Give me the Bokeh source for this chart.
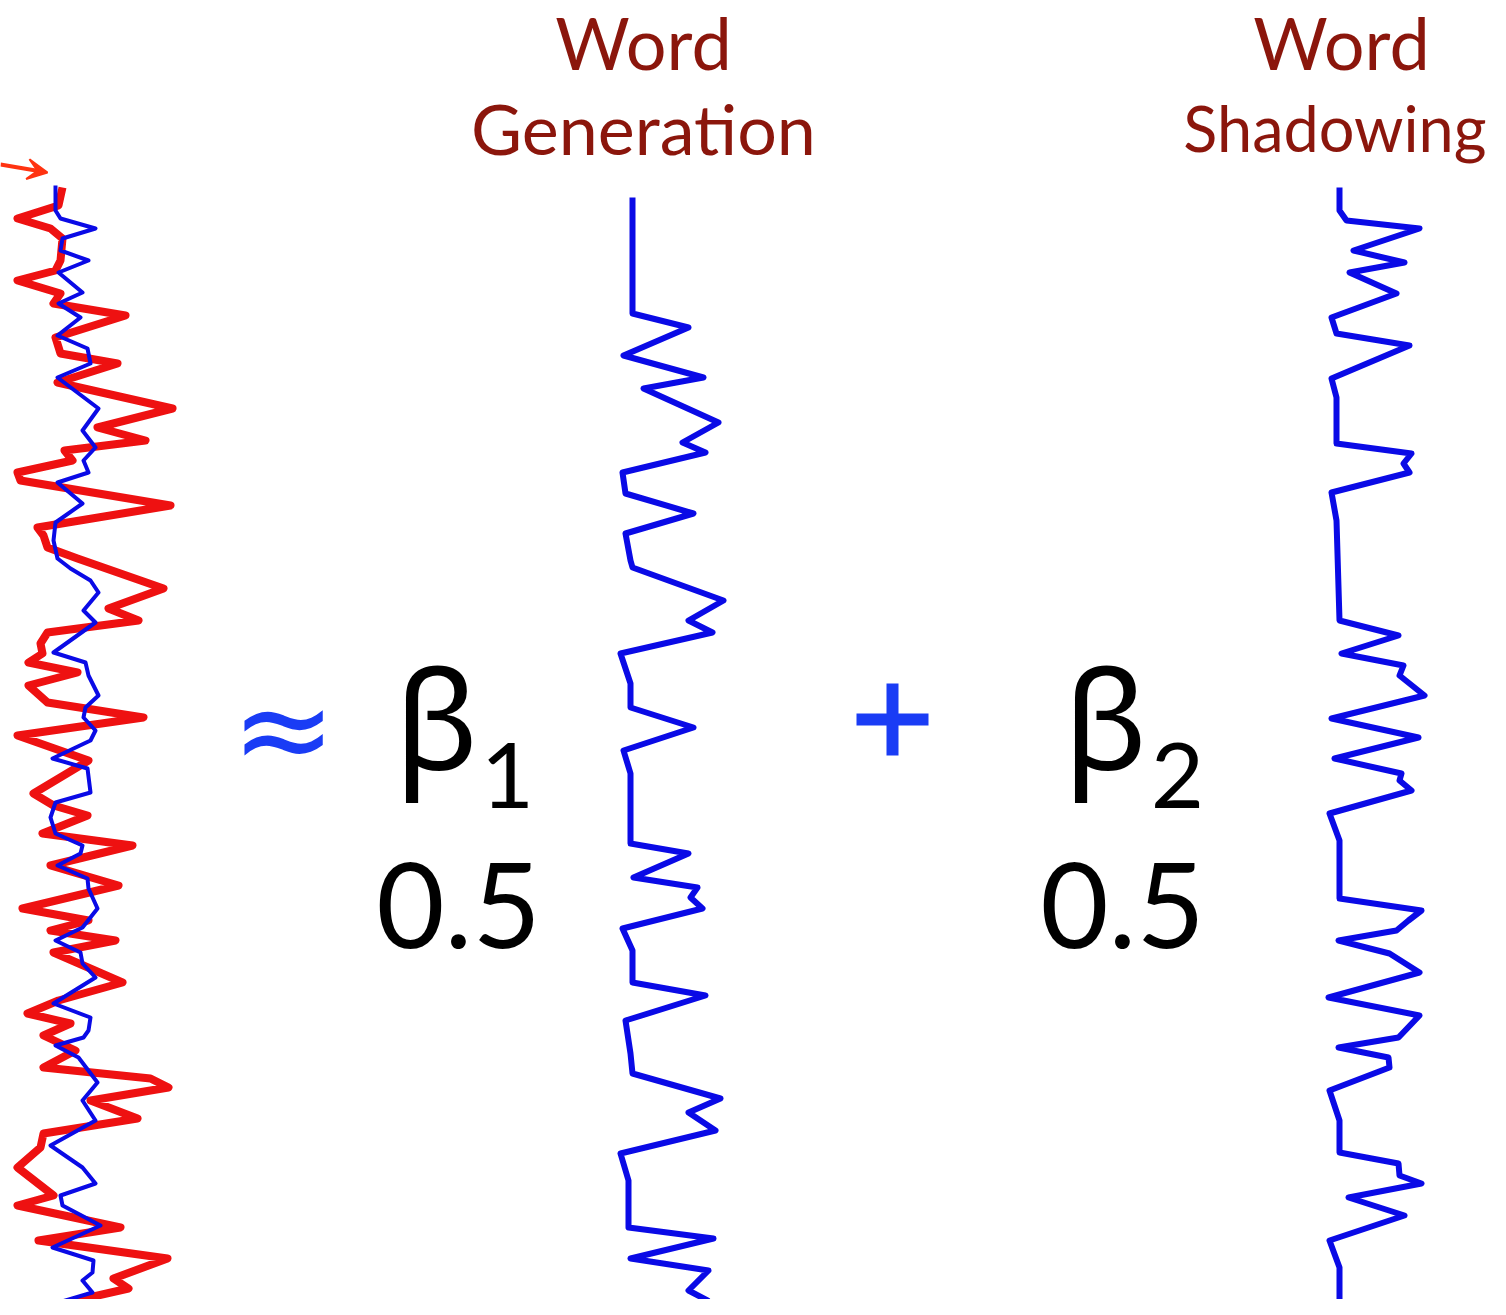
from bokeh.plotting import figure
from bokeh.models import Range1d, Arrow, VeeHead
from bokeh.core.properties import value
from bokeh.embed import file_html
from bokeh.resources import INLINE

# ---------------- data (time = scan position down the page, value = deflection) -------------
# measured BOLD signal (red) and model fit (blue) in the left panel
data_t = [187, 205, 218, 228, 238, 260, 270, 280, 293, 303, 315, 337, 353, 363, 382, 408, 427, 440, 450,
          460, 472, 480, 505, 527, 535, 547, 558, 588, 608, 620, 632, 643, 653, 662, 672, 685, 702, 717,
          735, 760, 793, 805, 815, 833, 845, 865, 885, 908, 920, 930, 940, 952, 982, 1000, 1013, 1023,
          1035, 1050, 1067, 1078, 1087, 1100, 1118, 1133, 1147, 1167, 1195, 1205, 1227, 1240, 1258,
          1278, 1288, 1302]
data_v = [7, 3, -38, -5, 7, 5, 0, -38, 5, -2, 70, 0, 5, 62, 2, 117, 42, 90, 9,
          17, -38, -35, 115, -18, -12, -8, 22, 108, 53, 83, -8, -15, -13, -27, 22, -27, -8, 88,
          -38, 33, -22, -2, 32, -13, 77, -5, 63, -33, 33, -5, 60, -2, 67, 3, -28, 15,
          -12, 20, -12, 95, 113, 35, 82, -12, -15, -38, -2, -38, 65, -17, 112,
          58, 73, 12]

fit_t = [185, 210, 218, 228, 238, 250, 260, 272, 292, 303, 317, 335, 348, 363, 377, 408, 430, 447, 460,
         472, 482, 503, 522, 540, 558, 568, 580, 592, 610, 622, 652, 662, 675, 695, 707, 717, 730, 740,
         758, 768, 792, 802, 817, 833, 845, 853, 865, 878, 888, 908, 927, 940, 952, 963, 977, 1003, 1017,
         1030, 1037, 1045, 1057, 1082, 1100, 1120, 1145, 1167, 1183, 1195, 1205, 1225, 1247, 1260, 1272,
         1280, 1292, 1302]
fit_v = [0, 0, 5, 40, 7, 5, 33, 3, 27, 3, 25, 2, 32, 35, 2, 43, 27, 40, 28,
         33, 2, 27, 0, -2, 2, 15, 35, 43, 28, 40, -2, 30, 33, 43, 30, 28, 40, 35,
         -3, 32, 35, 0, -5, 0, 27, 25, 2, 32, 33, 42, 27, 0, 25, 27, 40, -2, 35,
         33, 28, 0, 23, 42, 27, 40, -5, 27, 40, 5, 7, 45, -3, 38, 37,
         27, 37, 3]

# regressor 1: Word Generation
gen_t = [197, 313, 327, 355, 377, 388, 422, 442, 452, 472, 493, 513, 533, 560, 567, 600, 620, 632, 653,
         683, 707, 727, 750, 773, 843, 853, 877, 887, 897, 908, 928, 950, 982, 995, 1020, 1053, 1073,
         1098, 1112, 1130, 1153, 1180, 1227, 1238, 1258, 1270, 1290, 1300, 1312]
gen_v = [2, 2, 58, -7, 73, 13, 88, 52, 75, -8, -5, 63, -5, 0, 2, 93, 58, 82, -10,
         0, 0, 63, -7, 0, 0, 58, 3, 67, 60, 72, -8, 2, 2, 75, -5, 0, 2,
         90, 58, 85, -10, -2, -2, 83, 0, 78, 58, 77, 8]

# regressor 2: Word Shadowing
sha_t = [187, 210, 220, 228, 250, 262, 272, 293, 317, 333, 345, 378, 397, 443, 453, 463, 472, 492, 520,
         620, 635, 653, 665, 675, 695, 718, 737, 758, 773, 780, 790, 813, 840, 898, 910, 920, 930, 940,
         953, 972, 997, 1015, 1037, 1047, 1057, 1067, 1090, 1120, 1152, 1163, 1175, 1183, 1197, 1215,
         1240, 1267, 1300]
sha_v = [2, 2, 9, 82, 16, 67, 12, 59, -6, -1, 72, -6, -1, -1, 74, 66, 72, -6, -1,
         2, 61, 4, 66, 62, 87, -6, 81, -3, 64, 62, 74, -8, 2, 2, 84, 71, 59, 1,
         52, 82, -9, 82, 61, 1, 51, 52, -8, 2, 2, 61, 62, 84, 11, 67,
         -8, 2, 2]

weights = ["0.5", "0.5"]
regressor_names = [["Word", "Generation"], ["Word", "Shadowing"]]

# ---------------- figure ----------------
W, H = 1490, 1299
p = figure(width=W, height=H, output_backend="svg", toolbar_location=None,
           x_range=Range1d(0, W), y_range=Range1d(H, 0),
           x_axis_location=None, y_axis_location=None, min_border=0)
p.grid.visible = False
p.outline_line_color = None
p.background_fill_color = "white"
p.border_fill_color = "white"

RED = "#ee1111"
BLUE = "#0a0ae6"
TITLE = "#8b160c"
SIGN = "#1a3cf5"

base_data, base_gen, base_sha = 55, 630, 1337

p.line([base_data + v for v in data_v], data_t, line_color=RED, line_width=8, line_join="round")
p.line([base_data + v for v in fit_v], fit_t, line_color=BLUE, line_width=4, line_join="round")
p.line([base_gen + v for v in gen_v], gen_t, line_color=BLUE, line_width=6, line_join="round")
p.line([base_sha + v for v in sha_v], sha_t, line_color=BLUE, line_width=6, line_join="round")

p.add_layout(Arrow(end=VeeHead(size=20, fill_color="#ff3311", line_color="#ff3311", line_width=2),
                   x_start=0, y_start=164, x_end=47, y_end=172,
                   line_color="#ff3311", line_width=4))

FONT = value("Lato")
DY = 29  # text baseline correction
# regressor names
p.text([643], [70 - DY], text=[regressor_names[0][0]], text_align="center", text_baseline="alphabetic",
       text_font=FONT, text_font_size="72px", text_color=TITLE)
p.text([643], [156 - DY], text=[regressor_names[0][1]], text_align="center", text_baseline="alphabetic",
       text_font=FONT, text_font_size="70px", text_color=TITLE)
p.text([1341], [70 - DY], text=[regressor_names[1][0]], text_align="center", text_baseline="alphabetic",
       text_font=FONT, text_font_size="72px", text_color=TITLE)
p.text([1486], [156 - DY], text=[regressor_names[1][1]], text_align="right", text_baseline="alphabetic",
       text_font=FONT, text_font_size="63px", text_color=TITLE)

# approx sign and plus
p.text([283], [728], text=["≈"], text_align="center", text_baseline="alphabetic",
       text_font=value("DejaVu Sans"), text_font_size="125px", text_color=SIGN)
p.scatter([892], [719], marker="cross", size=72, line_width=12, line_color=SIGN)

# betas with subscripts and weights
for bx, sub, sx, wx, w in zip([436, 1105], ["1", "2"], [507, 1177], [458, 1122], weights):
    p.text([bx], [715], text=["β"], text_align="center", text_baseline="alphabetic",
           text_font=value("Noto Sans"), text_font_size="138px", text_color="black")
    p.text([sx], [804 - DY], text=[sub], text_align="center", text_baseline="alphabetic",
           text_font=FONT, text_font_size="92px", text_color="black")
    p.text([wx], [905], text=[w], text_align="center", text_baseline="alphabetic",
           text_font=FONT, text_font_size="118px", text_color="black")

open("out.html", "w").write(file_html(p, INLINE))
